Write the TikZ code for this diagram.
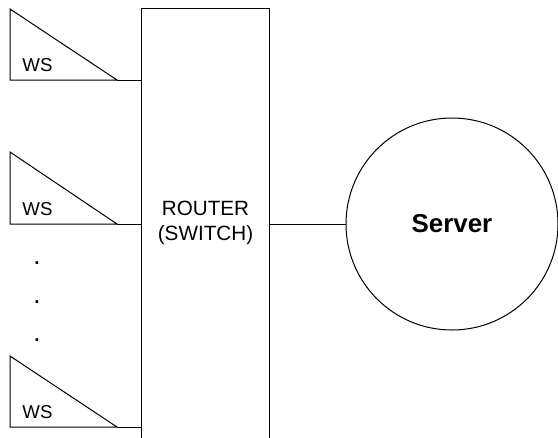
\documentclass[tikz,border=0pt]{standalone}
\usepackage{fontspec}
\setmainfont{Liberation Sans}
\usepackage{tikz}

\begin{document}
\begin{tikzpicture}[x=0.75pt, y=-0.75pt, line width=0.75pt,
    wslabel/.style={anchor=base west, inner sep=0pt, font=\fontsize{14}{16}\selectfont},
    dotlabel/.style={inner sep=0pt, font=\fontsize{14}{16}\selectfont\bfseries}]
    \useasboundingbox (0, 0) rectangle (558, 437);
    % router, open at the bottom
    \node[minimum width=127*0.75pt, minimum height=428*0.75pt, inner sep=0pt,
          align=center, font=\fontsize{15.5}{18.75}\selectfont]
        (router) at (205.5, 223) {ROUTER\\(SWITCH)};
    \draw (router.south west) -- (router.north west) -- (router.north east) -- (router.south east);
    % server
    \node[circle, draw, minimum size=212*0.75pt, inner sep=0pt,
          font=\fontsize{19.4}{22}\selectfont\bfseries]
        (server) at (452, 224) {Server};
    % workstations
    \coordinate (ws1) at (117, 80);
    \coordinate (ws2) at (117, 224);
    \coordinate (ws3) at (117, 427);
    \draw (ws1) -- ++(-107, -71) -- ++(0, 71) -- cycle;
    \draw (ws2) -- ++(-107, -72) -- ++(0, 72) -- cycle;
    \draw (ws3) -- ++(-107, -71) -- ++(0, 71) -- cycle;
    \node[wslabel] (lbl1) at (22, 71) {WS};
    \node[wslabel] (lbl2) at (22, 215) {WS};
    \node[wslabel] (lbl3) at (22, 418) {WS};
    \node[dotlabel] (d1) at (37, 263) {.};
    \node[dotlabel] (d2) at (37, 302) {.};
    \node[dotlabel] (d3) at (37, 340) {.};
    \begin{scope}[-]
        \draw (ws1) -- (ws1 -| router.west);
        \draw (ws2) -- (ws2 -| router.west);
        \draw (ws3) -- (ws3 -| router.west);
        \draw (router.east |- server.west) -- (server.west);
    \end{scope}
\end{tikzpicture}
\end{document}
